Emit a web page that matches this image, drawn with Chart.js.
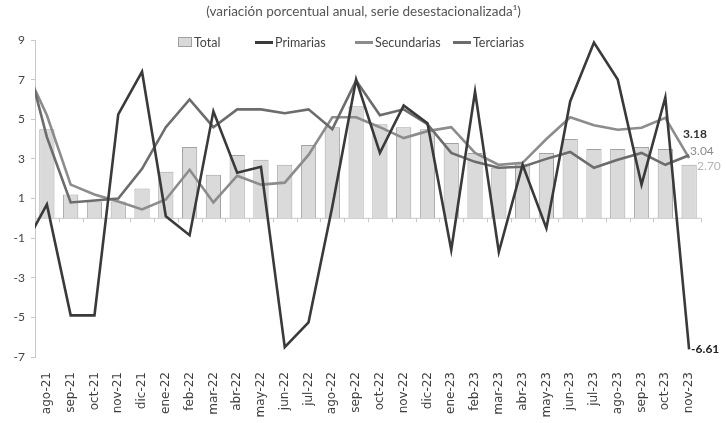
<!DOCTYPE html>
<html lang="es">
<head>
<meta charset="utf-8">
<title>Variación porcentual anual</title>
<script src="https://cdn.jsdelivr.net/npm/chart.js@4.4.0/dist/chart.umd.min.js"></script>
<style>
  body { margin: 0; background: #fff; }
  #wrap { position: relative; width: 727px; height: 423px; }
  #titulo { position: absolute; top: 3px; left: 0; width: 727px; text-align: center;
            font: 13.5px Lato, sans-serif; color: #555; }
  .item { position: absolute; top: 35px; font: 12.5px Lato, sans-serif; color: #444; white-space: nowrap; }
  .caja { display: inline-block; width: 12px; height: 8px; background: #d9d9d9; border: 1px solid #a0a0a0;
          margin-right: 2px; vertical-align: 0px; }
  .raya { display: inline-block; width: 18px; height: 3px; margin-right: 2px; vertical-align: 3px; }
</style>
</head>
<body>
<div id="wrap">
  <canvas id="grafica" width="727" height="423"></canvas>
  <div id="titulo">(variación porcentual anual, serie desestacionalizada¹)</div>
  <span class="item" style="left:178px"><i class="caja"></i>Total</span>
  <span class="item" style="left:255px"><i class="raya" style="background:#3a3a3a"></i>Primarias</span>
  <span class="item" style="left:355px"><i class="raya" style="background:#8c8c8c"></i>Secundarias</span>
  <span class="item" style="left:453px"><i class="raya" style="background:#6c6c6c"></i>Terciarias</span>
</div>
<script>
// Datos
const meses = ['ago-21', 'sep-21', 'oct-21', 'nov-21', 'dic-21', 'ene-22', 'feb-22', 'mar-22', 'abr-22',
    'may-22', 'jun-22', 'jul-22', 'ago-22', 'sep-22', 'oct-22', 'nov-22', 'dic-22', 'ene-23', 'feb-23',
    'mar-23', 'abr-23', 'may-23', 'jun-23', 'jul-23', 'ago-23', 'sep-23', 'oct-23', 'nov-23'];

const total = [4.5, 1.2, 0.85, 0.85, 1.5, 2.35, 3.6, 2.2, 3.2, 2.95, 2.7, 3.7, 4.6, 5.65, 4.75, 4.6, 4.5,
    3.8, 3.3, 2.55, 2.75, 3.3, 4.0, 3.5, 3.5, 3.6, 3.5, 2.70];
const primarias = [0.7, -4.9, -4.9, 5.25, 7.4, 0.1, -0.85, 5.4, 2.3, 2.6, -6.5, -5.25, 0.6, 7.0, 3.3, 5.7,
    4.8, -1.6, 6.4, -1.7, 2.7, -0.5, 5.9, 8.87, 7.0, 1.7, 6.1, -6.61];
const secundarias = [5.2, 1.7, 1.2, 0.85, 0.45, 0.95, 2.45, 0.8, 2.15, 1.7, 1.8, 3.2, 5.1, 5.1, 4.6, 4.05,
    4.4, 4.6, 3.3, 2.7, 2.8, 4.0, 5.1, 4.7, 4.47, 4.57, 5.07, 3.04];
const terciarias = [4.1, 0.8, 0.9, 1.0, 2.5, 4.6, 6.0, 4.6, 5.5, 5.5, 5.3, 5.5, 4.5, 6.95, 5.2, 5.5, 4.75,
    3.3, 2.85, 2.55, 2.6, 3.0, 3.35, 2.55, 2.95, 3.3, 2.7, 3.18];

// jul-21: solo asoma el tramo que entra por el eje
const mesPrevio = 'jul-21';
const previo = { primarias: -1.5, secundarias: 7.8, terciarias: 8.7 };

const ticksY = [-7, -5, -3, -1, 1, 3, 5, 7, 9];

// Etiquetas con el último dato de cada serie
const etiquetasFinales = {
    id: 'etiquetasFinales',
    afterDatasetsDraw(chart) {
        const ctx = chart.ctx;
        const ultimo = (i) => {
            const meta = chart.getDatasetMeta(i);
            return meta.data[meta.data.length - 1];
        };
        const valor = (i) => {
            const d = chart.data.datasets[i].data;
            return d[d.length - 1].toFixed(2);
        };
        ctx.save();
        ctx.textBaseline = 'middle';
        ctx.textAlign = 'left';
        let p = ultimo(3);
        ctx.font = 'bold 12px Lato';
        ctx.fillStyle = '#333';
        ctx.fillText(valor(3), p.x - 6, p.y - 21);
        p = ultimo(2);
        ctx.font = '12px Lato';
        ctx.fillStyle = '#8c8c8c';
        ctx.fillText(valor(2), p.x + 1, p.y - 7);
        p = ultimo(0);
        ctx.fillStyle = '#b4b4b4';
        ctx.fillText(valor(0), p.x + 8, p.y + 1);
        p = ultimo(1);
        ctx.font = 'bold 12px Lato';
        ctx.fillStyle = '#222';
        ctx.fillText(valor(1), p.x + 2, p.y);
        ctx.restore();
    }
};

// Línea del cero con sus marcas entre categorías
const lineaCero = {
    id: 'lineaCero',
    beforeDatasetsDraw(chart) {
        const { ctx, chartArea, scales } = chart;
        const y0 = scales.y.getPixelForValue(0);
        ctx.save();
        ctx.strokeStyle = '#c8c8c8';
        ctx.lineWidth = 1;
        ctx.beginPath();
        ctx.moveTo(chartArea.left, y0);
        ctx.lineTo(chartArea.right, y0);
        const paso = (chartArea.right - chartArea.left) / meses.length;
        for (let i = 0; i <= meses.length; i++) {
            const x = Math.round(chartArea.left + paso * i) + 0.5;
            ctx.moveTo(x, y0);
            ctx.lineTo(x, y0 + 4);
        }
        ctx.stroke();
        ctx.restore();
    }
};

const etiquetas = [mesPrevio, ...meses];

new Chart(document.getElementById('grafica').getContext('2d'), {
    type: 'bar',
    data: {
        labels: etiquetas,
        datasets: [
            {
                label: 'Total',
                data: [null, ...total],
                backgroundColor: '#dadada',
                borderColor: '#a3a3a3',
                borderWidth: 1,
                barPercentage: 0.64,
                categoryPercentage: 1,
                order: 5
            },
            {
                type: 'line',
                label: 'Primarias',
                data: [previo.primarias, ...primarias],
                borderColor: '#3a3a3a',
                borderWidth: 2.6,
                pointRadius: 0,
                tension: 0,
                order: 0
            },
            {
                type: 'line',
                label: 'Secundarias',
                data: [previo.secundarias, ...secundarias],
                borderColor: '#8c8c8c',
                borderWidth: 2.6,
                pointRadius: 0,
                tension: 0,
                order: 2
            },
            {
                type: 'line',
                label: 'Terciarias',
                data: [previo.terciarias, ...terciarias],
                borderColor: '#6c6c6c',
                borderWidth: 2.6,
                pointRadius: 0,
                tension: 0,
                order: 1
            }
        ]
    },
    options: {
        responsive: false,
        animation: false,
        layout: { padding: { top: 40, right: 26, left: 0, bottom: 0 } },
        plugins: {
            legend: { display: false },
            tooltip: { enabled: false }
        },
        scales: {
            x: {
                min: meses[0],
                offset: true,
                grid: { display: false },
                border: { display: false },
                ticks: {
                    autoSkip: false,
                    minRotation: 90,
                    maxRotation: 90,
                    padding: 7,
                    color: '#404040',
                    font: { family: 'DejaVu Sans', size: 12 }
                },
                afterFit: (s) => { s.height = 66; }
            },
            y: {
                min: -7,
                max: 9,
                afterBuildTicks: (s) => { s.ticks = ticksY.map(v => ({ value: v })); },
                grid: { drawOnChartArea: false, color: '#c8c8c8', tickLength: 4 },
                border: { display: true, color: '#c8c8c8' },
                ticks: {
                    padding: 6,
                    color: '#444',
                    font: { family: 'Lato', size: 12 }
                },
                afterFit: (s) => { s.width = 35; }
            }
        }
    },
    plugins: [lineaCero, etiquetasFinales]
});
</script>
</body>
</html>
